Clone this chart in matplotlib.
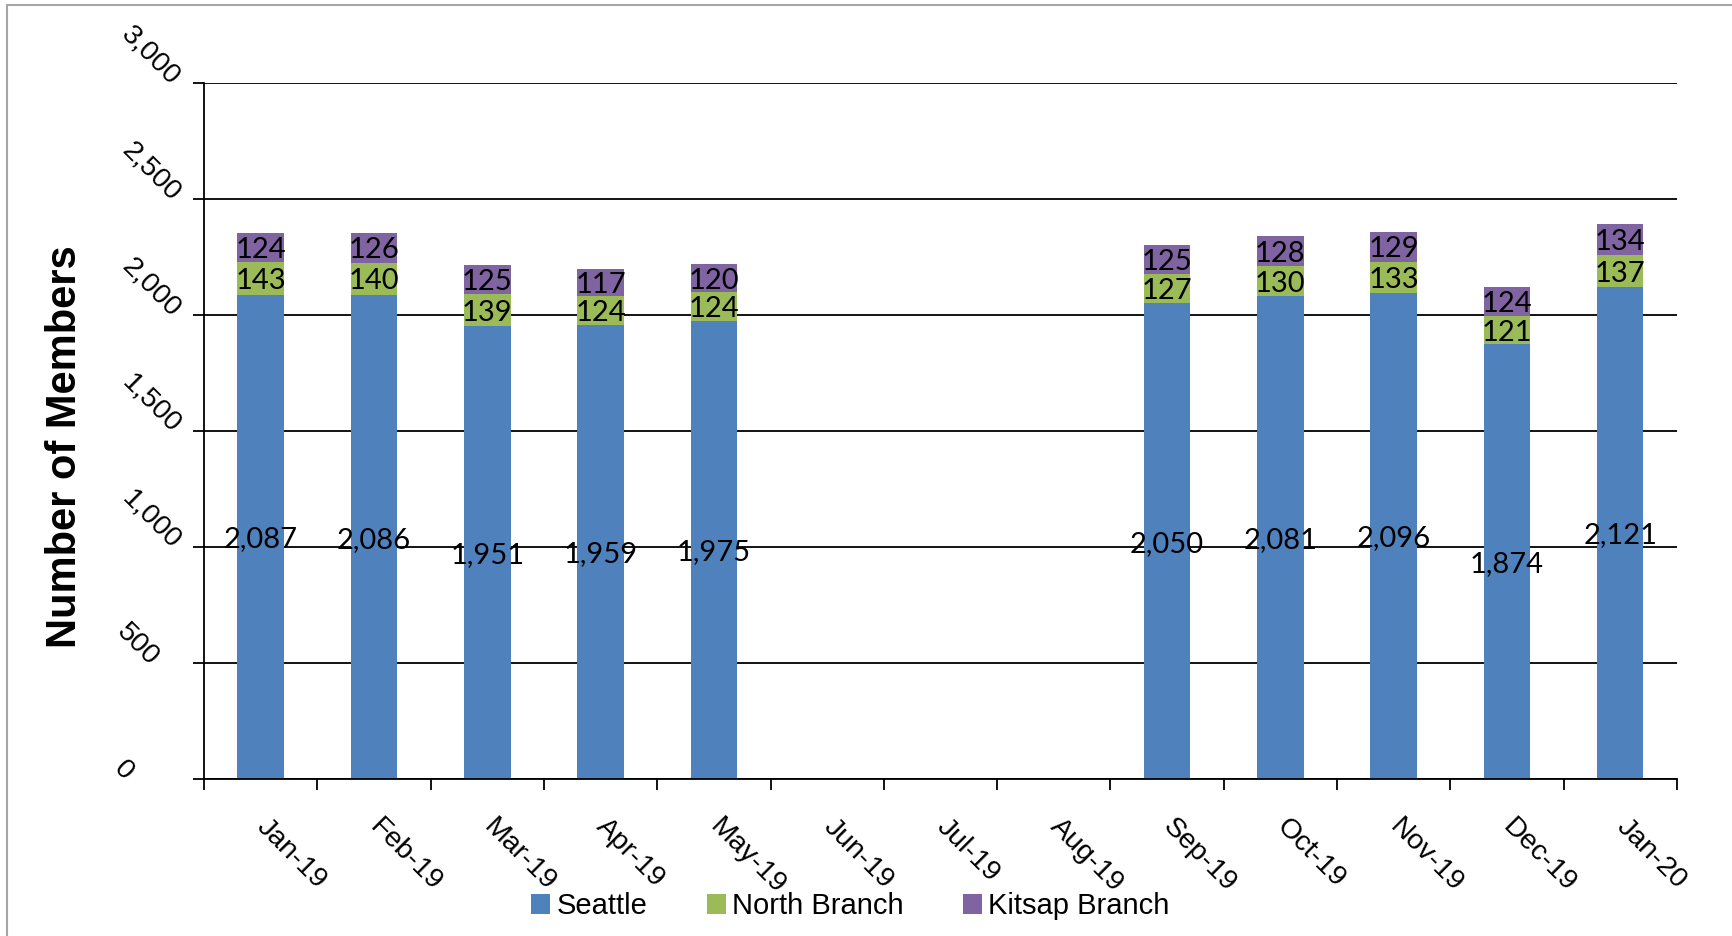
import numpy as np
import matplotlib
matplotlib.use("Agg")
import matplotlib.pyplot as plt
from matplotlib.patches import Rectangle
from matplotlib.transforms import ScaledTranslation

# ----------------------------
# Data
# ----------------------------
months = ["Jan-19", "Feb-19", "Mar-19", "Apr-19", "May-19", "Jun-19", "Jul-19",
          "Aug-19", "Sep-19", "Oct-19", "Nov-19", "Dec-19", "Jan-20"]
seattle = [2087, 2086, 1951, 1959, 1975, np.nan, np.nan, np.nan, 2050, 2081, 2096, 1874, 2121]
north = [143, 140, 139, 124, 124, np.nan, np.nan, np.nan, 127, 130, 133, 121, 137]
kitsap = [124, 126, 125, 117, 120, np.nan, np.nan, np.nan, 125, 128, 129, 124, 134]
series_names = ["Seattle", "North Branch", "Kitsap Branch"]
colors = ["#4F81BD", "#9BBB59", "#8064A2"]
y_ticks = [0, 500, 1000, 1500, 2000, 2500, 3000]

AXIS_FONT = "Liberation Sans"
LABEL_FONT = "Lato"

fig = plt.figure(figsize=(17.32, 9.36), dpi=100)
ax = fig.add_axes([0.1178, 0.1677, 0.8504, 0.7436])

x = np.arange(len(months))
s = np.array(seattle, dtype=float)
n = np.array(north, dtype=float)
k = np.array(kitsap, dtype=float)

width = 0.41
b1 = ax.bar(x, s, width, color=colors[0], zorder=2)
b2 = ax.bar(x, n, width, bottom=s, color=colors[1], zorder=2)
b3 = ax.bar(x, k, width, bottom=s + n, color=colors[2], zorder=2)

# data labels in the middle of each segment
for i in range(len(months)):
    if np.isnan(s[i]):
        continue
    ax.text(x[i], s[i] / 2, f"{int(s[i]):,}", ha="center", va="center_baseline",
            fontsize=21, family=LABEL_FONT, zorder=3)
    ax.text(x[i], s[i] + n[i] / 2, f"{int(n[i])}", ha="center", va="center_baseline",
            fontsize=21, family=LABEL_FONT, zorder=3)
    ax.text(x[i], s[i] + n[i] + k[i] / 2, f"{int(k[i])}", ha="center", va="center_baseline",
            fontsize=21, family=LABEL_FONT, zorder=3)

ax.set_xlim(-0.5, len(months) - 0.5)
ax.set_ylim(0, 3000)

# gridlines
ax.set_yticks(y_ticks)
ax.yaxis.grid(True, color="black", linewidth=1.3, zorder=0)
ax.set_axisbelow(True)
ax.set_yticklabels([])
ax.tick_params(axis="y", direction="out", length=8, width=1.3)

# slanted y tick labels (Excel style)
for v in y_ticks:
    lab = f"{v:,}"
    L = 13.6 * len(lab)
    dx = (117 + 0.5 * L - 204) / 100
    dy = (3 + 0.36 * L) / 100
    tr = ax.get_yaxis_transform() + ScaledTranslation(dx, dy, fig.dpi_scale_trans)
    ax.text(0, v, lab, transform=tr, rotation=-45, rotation_mode="anchor",
            ha="center", va="center", fontsize=20.5, family=AXIS_FONT, clip_on=False)

# x axis: ticks at boundaries, labels at centres
ax.set_xticks(np.arange(-0.5, len(months), 1))
ax.set_xticklabels([])
ax.tick_params(axis="x", which="major", direction="out", length=8, width=1.3)
ax.set_xticks(x, minor=True)
ax.set_xticklabels(months, minor=True, rotation=-45, ha="left", va="center",
                   rotation_mode="anchor", fontsize=20.5, family=AXIS_FONT)
ax.tick_params(axis="x", which="minor", length=0, pad=31.7)

for side in ["top", "right"]:
    ax.spines[side].set_visible(False)
for side in ["left", "bottom"]:
    ax.spines[side].set_linewidth(1.3)
    ax.spines[side].set_color("black")

fig.text(65 / 1732, 1 - 447 / 936, "Number of Members", rotation=90, ha="center",
         va="center", fontsize=30, fontweight="bold", family=AXIS_FONT)

fig.legend([b1, b2, b3], series_names, loc="center", bbox_to_anchor=(0.491, 0.032),
           ncol=3, frameon=False, prop={"family": AXIS_FONT, "size": 21},
           handlelength=0.65, handleheight=0.65, handletextpad=0.2, columnspacing=2.05)

# thin grey frame around the chart area
fig.add_artist(Rectangle((7 / 1732, -0.05), 1.1, 1.05 - 5 / 936, transform=fig.transFigure,
                         fill=False, edgecolor="#A6A6A6", linewidth=1.5))

fig.savefig("out.png", dpi=100)
